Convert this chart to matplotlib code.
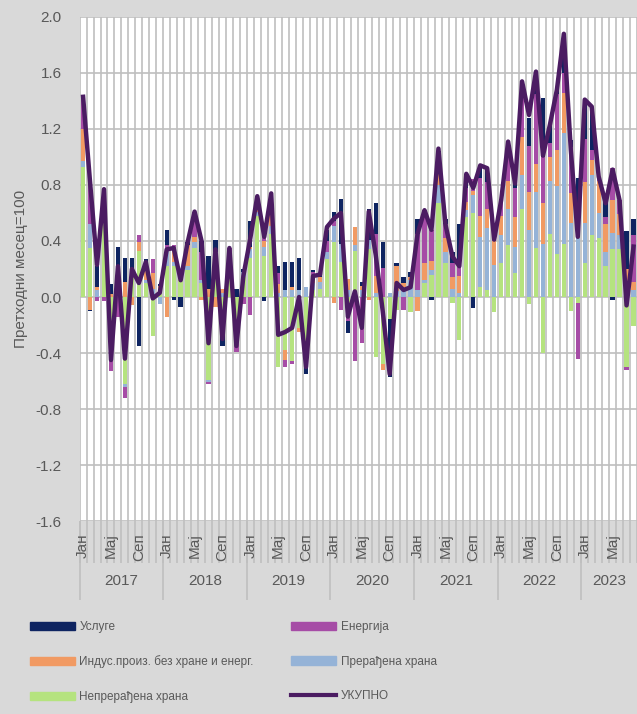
import numpy as np
import matplotlib.pyplot as plt
from matplotlib.patches import Patch
from matplotlib.lines import Line2D

plt.rcParams['font.family'] = ['Liberation Sans', 'DejaVu Sans']
plt.rcParams['axes.unicode_minus'] = False

# месечни доприноси, јан 2017 - авг 2023
years = ['2017', '2018', '2019', '2020', '2021', '2022', '2023']
month_names = ['Јан', 'Мај', 'Сеп']

neprerađena = [0.93, 0.35, 0.00, 0.74, -0.38, 0.10, -0.62, 0.15, 0.33, 0.10, -0.28, 0.06,
               0.22, 0.22, 0.14, 0.19, 0.35, 0.10, -0.59, 0.28, -0.10, 0.20, -0.26, 0.14,
               0.28, 0.58, 0.29, 0.45, -0.50, -0.38, -0.46, -0.22, -0.32, 0.05, 0.06, 0.27,
               0.39, 0.25, -0.10, 0.33, 0.00, 0.34, -0.43, -0.48, -0.16, -0.09, 0.00, -0.11,
               0.00, 0.10, 0.16, 0.67, 0.24, -0.04, -0.31, 0.57, 0.60, 0.07, 0.05, -0.11,
               0.24, 0.37, 0.17, 0.63, -0.05, 0.35, -0.40, 0.45, 0.31, 0.38, -0.10, -0.04,
               0.24, 0.44, 0.42, 0.22, 0.34, 0.34, -0.50, -0.21]
prerađena = [0.04, 0.17, 0.05, 0.00, 0.00, 0.00, -0.02, 0.05, 0.00, 0.02, 0.06, -0.05,
             0.12, 0.03, 0.05, 0.03, 0.04, 0.02, -0.02, 0.04, 0.03, 0.08, 0.00, 0.04,
             0.06, 0.03, 0.07, 0.06, 0.03, 0.05, 0.05, 0.05, 0.07, 0.05, 0.05, 0.05,
             0.12, 0.13, 0.05, 0.04, 0.05, 0.07, 0.03, 0.00, 0.03, 0.04, 0.07, 0.12,
             0.05, 0.02, 0.03, 0.13, 0.08, 0.06, 0.03, 0.05, 0.13, 0.36, 0.44, 0.23,
             0.20, 0.26, 0.19, 0.24, 0.48, 0.40, 0.38, 0.38, 0.48, 0.79, 0.53, 0.42,
             0.29, 0.43, 0.18, 0.10, 0.12, 0.10, 0.10, 0.05]
industrija = [0.23, -0.09, 0.02, 0.02, 0.02, 0.00, 0.11, -0.06, 0.06, 0.09, 0.11, 0.02,
              -0.14, 0.10, 0.00, 0.15, 0.04, -0.02, 0.06, -0.07, 0.03, 0.04, 0.00, 0.00,
              0.02, 0.02, 0.04, 0.16, 0.06, -0.07, 0.02, -0.03, 0.00, 0.02, 0.03, 0.00,
              -0.04, 0.00, 0.08, 0.13, 0.03, -0.02, 0.12, -0.04, 0.00, 0.18, 0.03, 0.02,
              -0.10, 0.12, 0.07, 0.08, 0.10, 0.08, 0.12, 0.06, 0.03, 0.15, 0.14, 0.17,
              0.14, 0.20, 0.21, 0.27, 0.27, 0.20, 0.29, 0.17, 0.26, 0.29, 0.21, 0.04,
              0.29, 0.11, 0.23, 0.20, 0.23, 0.15, 0.10, 0.06]
energija = [0.22, 0.31, -0.03, -0.03, -0.15, -0.14, -0.08, 0.00, 0.05, 0.00, 0.10, 0.00,
            0.03, 0.02, 0.00, 0.00, 0.18, 0.20, -0.01, 0.00, -0.12, 0.03, -0.13, -0.05,
            -0.13, 0.06, 0.04, 0.05, 0.08, -0.05, -0.02, 0.00, -0.10, 0.06, 0.00, 0.08,
            0.03, -0.09, -0.07, -0.46, -0.33, 0.00, 0.30, 0.21, 0.00, 0.00, -0.09, 0.00,
            0.40, 0.38, 0.22, 0.12, 0.10, 0.10, 0.07, 0.10, 0.08, 0.27, 0.19, 0.08,
            0.12, 0.21, 0.21, 0.39, 0.33, 0.50, 0.33, 0.10, 0.40, 0.14, 0.33, -0.40,
            0.31, 0.07, 0.03, 0.05, 0.23, 0.10, -0.02, 0.33]
usluge = [0.00, -0.01, 0.15, 0.01, 0.07, 0.26, 0.17, 0.08, -0.35, 0.06, 0.00, 0.01,
          0.11, -0.02, -0.07, 0.02, 0.00, 0.08, 0.23, 0.09, -0.13, 0.00, 0.06, 0.02,
          0.18, 0.03, -0.03, 0.00, 0.05, 0.20, 0.18, 0.23, -0.13, 0.01, 0.03, 0.08,
          0.07, 0.32, -0.09, 0.00, 0.03, 0.22, 0.22, 0.18, -0.41, 0.02, 0.04, 0.04,
          0.11, 0.00, -0.02, 0.04, 0.04, 0.08, 0.30, 0.10, -0.08, 0.08, 0.10, 0.04,
          0.00, 0.07, 0.03, 0.00, 0.20, 0.10, 0.42, 0.12, 0.03, 0.28, 0.05, 0.39,
          0.28, 0.31, 0.00, 0.11, -0.02, 0.00, 0.27, 0.12]
ukupno = [1.43, 0.82, 0.23, 0.77, -0.45, 0.22, -0.44, 0.20, 0.10, 0.25, -0.01, 0.03,
          0.34, 0.35, 0.12, 0.39, 0.61, 0.40, -0.33, 0.34, -0.30, 0.35, -0.35, 0.15,
          0.42, 0.72, 0.43, 0.74, -0.27, -0.25, -0.22, 0.00, -0.50, 0.15, 0.16, 0.50,
          0.56, 0.60, -0.14, 0.04, -0.22, 0.61, 0.30, -0.10, -0.55, 0.10, 0.05, 0.07,
          0.45, 0.62, 0.48, 1.06, 0.52, 0.29, 0.22, 0.88, 0.78, 0.94, 0.92, 0.41,
          0.69, 1.11, 0.81, 1.54, 1.30, 1.61, 1.01, 1.23, 1.48, 1.88, 1.05, 0.43,
          1.41, 1.36, 0.86, 0.67, 0.91, 0.69, -0.06, 0.36]

c_usl = '#0E2461'
c_ene = '#A64CA6'
c_ind = '#F19A63'
c_pre = '#95B3D7'
c_nep = '#B5E37F'
c_uk = '#4B1C62'
grid_c = '#BFBFBF'
txt_c = '#595959'

n = len(ukupno)
x = np.arange(n)

fig = plt.figure(figsize=(6.37, 7.14), dpi=100, facecolor='#D9D9D9')
ax = fig.add_axes([0.125, 0.2703, 0.875, 0.7059])
ax.set_facecolor('white')

# сложени стубићи: позитивни и негативни посебно
pos = np.zeros(n)
neg = np.zeros(n)
for vals, col in zip([neprerađena, prerađena, industrija, energija, usluge],
                     [c_nep, c_pre, c_ind, c_ene, c_usl]):
    v = np.array(vals)
    bottom = np.where(v >= 0, pos, neg)
    ax.bar(x, v, 0.62, bottom=bottom, color=col, zorder=2, linewidth=0)
    pos += np.clip(v, 0, None)
    neg += np.clip(v, None, 0)

ax.plot(x, ukupno, color=c_uk, lw=3.2, zorder=3, solid_joinstyle='round')

yt = np.round(np.arange(-1.6, 2.01, 0.4), 1)
ax.set_xlim(-0.5, n - 0.5)
ax.set_ylim(-1.6, 2.0)
ax.set_yticks(yt)
ax.set_yticklabels(['%.1f' % t if abs(t) > 1e-9 else '0.0' for t in yt])
ax.set_xticks(np.arange(-0.5, n, 1))
ax.set_xticklabels([])
ax.grid(True, color=grid_c, lw=1.2, zorder=0)
ax.tick_params(axis='both', length=0, labelsize=11, labelcolor=txt_c)
ax.tick_params(axis='y', pad=13)
for s in ax.spines.values():
    s.set_visible(False)
ax.set_ylabel('Претходни месец=100', fontsize=11, color=txt_c, labelpad=5)

# категоријска оса: месеци и године
tr = ax.get_xaxis_transform()
ax.vlines(np.arange(-0.5, n, 1), -0.083, 0, transform=tr, colors=grid_c, lw=1.2, clip_on=False)
ax.vlines(np.arange(-0.5, n, 12), -0.157, 0, transform=tr, colors=grid_c, lw=1.2, clip_on=False)
for yi, yr in enumerate(years):
    for k, m in enumerate([0, 4, 8]):
        i = yi * 12 + m
        if i < n:
            ax.text(i, -0.024, month_names[k], rotation=90, ha='center', va='top',
                    fontsize=11, color=txt_c, transform=tr)
    mid = (yi * 12 + min(yi * 12 + 12, n)) / 2 - 0.5
    ax.text(mid, -0.12, yr, ha='center', va='center', fontsize=11, color=txt_c, transform=tr)

handles = [Patch(color=c_usl), Patch(color=c_ind), Patch(color=c_nep),
           Patch(color=c_ene), Patch(color=c_pre),
           Line2D([], [], color=c_uk, lw=3)]
labels = ['Услуге', 'Индус.произ. без хране и енерг.', 'Непрерађена храна',
          'Енергија', 'Прерађена храна', 'УКУПНО']
leg = fig.legend(handles, labels, ncol=2, loc='upper left', bbox_to_anchor=(0.03, 0.145),
                 frameon=False, fontsize=8.5, handlelength=3.8, handleheight=0.7,
                 labelspacing=1.9, columnspacing=3.2, handletextpad=0.4)
for t in leg.get_texts():
    t.set_color(txt_c)

fig.savefig('out.png', dpi=100, facecolor=fig.get_facecolor())
